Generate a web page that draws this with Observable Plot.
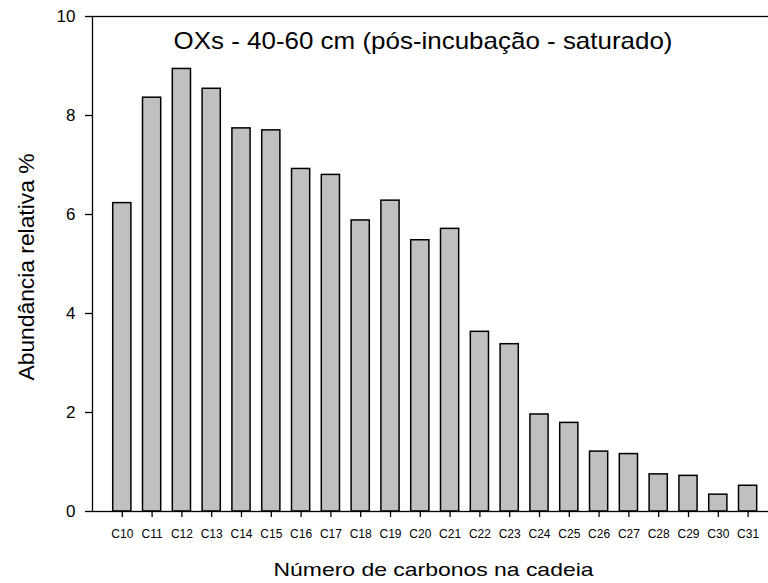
<!DOCTYPE html>
<html>
<head>
<meta charset="utf-8">
<script src="https://cdn.jsdelivr.net/npm/d3@7"></script>
<script src="https://cdn.jsdelivr.net/npm/@observablehq/plot@0.6"></script>
<style>
  html, body { margin: 0; padding: 0; background: #fff; }
  #chart { width: 768px; height: 583px; }
</style>
</head>
<body>
<div id="chart"></div>
<script>
// Relative abundance (%) of each carbon chain length
const categories = ["C10", "C11", "C12", "C13", "C14", "C15", "C16", "C17", "C18", "C19", "C20",
                    "C21", "C22", "C23", "C24", "C25", "C26", "C27", "C28", "C29", "C30", "C31"];
const abundance = [6.23, 8.36, 8.94, 8.54, 7.74, 7.70, 6.92, 6.80, 5.88, 6.28, 5.48,
                   5.71, 3.63, 3.38, 1.96, 1.79, 1.21, 1.16, 0.75, 0.72, 0.34, 0.52];
const yTicks = [0, 2, 4, 6, 8, 10];

const title = "OXs - 40-60 cm (pós-incubação - saturado)";
const xLabel = "Número de carbonos na cadeia";
const yLabel = "Abundância relativa %";

const data = categories.map((c, i) => ({cadeia: c, valor: abundance[i]}));

const W = 768, H = 583;
const mL = 92, mR = 0, mT = 16, mB = 72;
const step = 29.8; // band step in px; the last band runs slightly past the right edge

const chart = Plot.plot({
  width: W,
  height: H,
  marginLeft: mL,
  marginRight: mR,
  marginTop: mT,
  marginBottom: mB,
  style: {fontFamily: "'Liberation Sans', Arial, sans-serif", background: "#fff", color: "#000"},
  x: {domain: categories, range: [mL, mL + step * 23], paddingInner: 0.39, paddingOuter: 0.695, align: 0.5, round: false, axis: null},
  y: {domain: [0, 10], axis: null},
  marks: [
    Plot.barY(data, {x: "cadeia", y: "valor", fill: "#c0c0c0", stroke: "#000", strokeWidth: 1.5}),
    Plot.frame({stroke: "#000", strokeWidth: 1.3, insetRight: -4}),
    Plot.axisX({tickSize: 6, tickPadding: 12, fontSize: 12, label: null, strokeWidth: 1.3}),
    Plot.axisY({ticks: yTicks, tickSize: 7, tickPadding: 10, fontSize: 17, label: null, strokeWidth: 1.3}),
    Plot.text([title], {frameAnchor: "top", dy: 25, dx: -7.5, fontSize: 24, lineAnchor: "middle", className: "t-title"}),
    Plot.text([xLabel], {frameAnchor: "bottom", dy: 59, dx: 3, fontSize: 18.6, lineAnchor: "middle", className: "t-xlabel"}),
    Plot.text([yLabel], {frameAnchor: "left", dx: -66, dy: 3, rotate: -90, fontSize: 22, textAnchor: "middle", lineAnchor: "middle", className: "t-ylabel"})
  ]
});

// The label fonts are set slightly wide: fix each label's drawn length
const svg = d3.select(chart);
const setLength = (cls, len) =>
  svg.selectAll(`.${cls} text`).attr("textLength", len).attr("lengthAdjust", "spacingAndGlyphs");
setLength("t-title", 499);
setLength("t-xlabel", 320);
setLength("t-ylabel", 227);

document.getElementById("chart").appendChild(chart);
</script>
</body>
</html>
